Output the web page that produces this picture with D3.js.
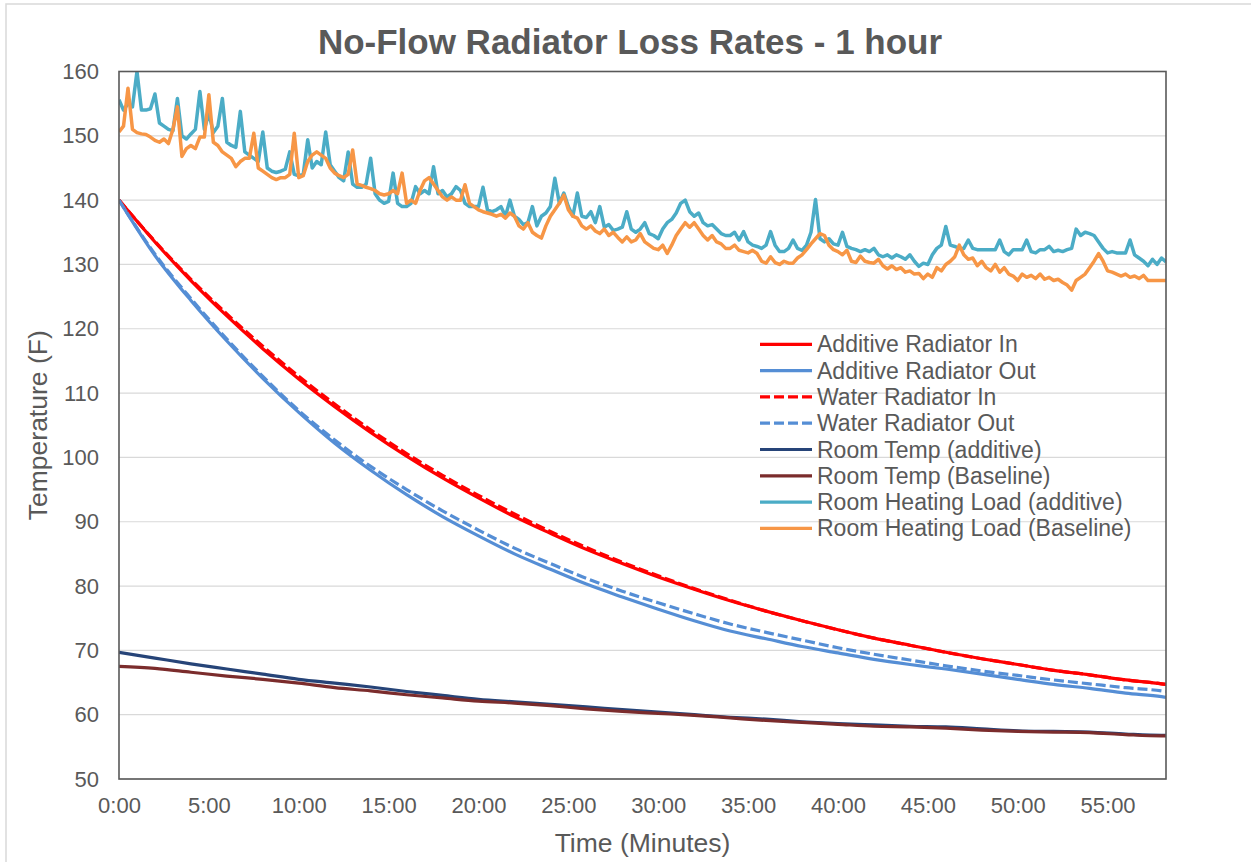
<!DOCTYPE html>
<html><head><meta charset="utf-8">
<script src="https://cdn.jsdelivr.net/npm/d3@7"></script>
<style>
body{margin:0;background:#fff}
svg{display:block}
text{font-family:"Liberation Sans",Arial,sans-serif;fill:#595959}
</style>
</head><body>
<svg id="chart" width="1251" height="862"></svg>
<script>
// ---------- DATA ----------
const chartTitle = "No-Flow Radiator Loss Rates - 1 hour";
const xTitle = "Time (Minutes)";
const yTitle = "Temperature (F)";
const yTicks = [50,60,70,80,90,100,110,120,130,140,150,160];
const xTickMinutes = [0,5,10,15,20,25,30,35,40,45,50,55];
const xTickLabels = ["0:00","5:00","10:00","15:00","20:00","25:00","30:00","35:00","40:00","45:00","50:00","55:00"];

// smooth series sampled every 2 minutes (minutes)
const smoothTimes = [0,2,4,6,8,10,12,14,16,18,20,22,24,26,28,30,32,34,36,38,40,42,44,46,48,50,52,54,56,58,58.25];
const additiveRadIn  = [140,133.5,127.5,122.0,116.9,112.2,107.9,103.9,100.2,96.8,93.7,90.8,88.2,85.7,83.5,81.4,79.5,77.7,76.1,74.6,73.2,71.9,70.8,69.7,68.7,67.8,66.9,66.2,65.4,64.8,64.7];
const additiveRadOut = [140,131.4,124.4,118.1,112.3,107.0,102.2,98.0,94.2,90.8,87.8,85.0,82.6,80.3,78.3,76.4,74.6,73.0,71.8,70.6,69.6,68.6,67.8,67.1,66.3,65.5,64.7,64.1,63.35,62.8,62.7];
const waterRadIn     = [140,133.6,127.7,122.3,117.3,112.6,108.3,104.3,100.6,97.2,94.1,91.2,88.5,86.0,83.7,81.6,79.6,77.8,76.1,74.6,73.2,71.9,70.8,69.7,68.7,67.8,66.9,66.2,65.4,64.8,64.7];
const waterRadOut    = [140,131.6,124.7,118.4,112.6,107.3,102.7,98.6,95.0,91.7,88.7,85.9,83.5,81.2,79.2,77.4,75.7,74.1,72.8,71.6,70.4,69.4,68.5,67.6,66.8,66.1,65.4,64.8,64.2,63.7,63.6];
const roomTempAdditive = [69.7,68.8,67.9,67.1,66.3,65.5,64.9,64.3,63.6,63.0,62.4,62.0,61.6,61.2,60.8,60.4,60.0,59.6,59.3,58.9,58.6,58.4,58.2,58.1,57.8,57.5,57.4,57.3,57.0,56.8,56.8];
const roomTempBaseline = [67.5,67.2,66.6,66.0,65.5,64.9,64.2,63.7,63.1,62.6,62.1,61.8,61.4,60.9,60.5,60.2,59.9,59.5,59.1,58.8,58.5,58.2,58.1,57.9,57.6,57.4,57.3,57.2,56.9,56.7,56.7];

// noisy series sampled every 15 seconds (0 .. 58.25 min)
const loadTimes = d3.range(234).map(i => i * 0.25);
const heatLoadAdditive = [
155.6,154,155,154.5, 160,154,154,154.2, 156.5,152,151.5,151, 150.8,155.8,150,149.5,
150.3,151,156.9,151, 153.5,150.5,151.5,155.8, 149,148.5,148.2,153.8, 147.5,147,146.5,146,
150.6,145,144.5,144.3, 144.5,144.8,147.5,144, 143.8,144,149.4,145, 146,145.5,150.6,145.5,
144.5,143.5,143,147.5, 142.5,142,142,142.5, 146.5,141,140,139.5, 139.8,144.2,139.5,139,
139,139.5,142.1,141, 141.5,141,145.2,141, 141.5,140.5,141,142.1, 141.5,139.5,139,139,
139,142,138.5,138.2, 138.5,139,137.5,140, 137.5,137,136.2,136.5, 139,136,137.5,138,
139,143.4,139.5,141.1, 139,137.5,141.1,137.5, 137.3,138.2,136.5,139, 135.8,136.2,135.3,135.5,
135.8,138.2,135.5,135, 135.5,136.5,134.8,134.5, 134,135.5,136.5,137, 138,139.5,140,138.2,
137.5,138,136.5,136, 136.2,135.5,134.8,134.5, 134.5,135,133.8,135.1, 133.5,133,132.8,132.5,
133,135.1,133,132, 132,132.5,133.8,132.5, 132.2,133,135,140.1, 134,133.5,134,133.2,
133,135,132.8,132.5, 132.3,132,132.3,132, 132.5,131.5,131.2,131.5, 131,131.5,131.2,130.8,
131.5,130.5,129.7,130.2, 130,131.5,132.5,133, 135.9,133,132.8,132.5, 132.5,133.8,132.5,132.3,
132.3,132.3,132.3,132.3, 133.8,132,131.5,132.3, 132.3,132.3,133.8,132, 131.8,132.3,132.3,132.8,
132,132.2,132,132.3, 132.5,135.5,134.5,135, 134.8,134.5,133.5,132.5, 131.8,132,131.8,131.8,
131.8,133.8,131.5,131, 130.5,129.8,130.8,130, 131,130.4];
const heatLoadBaseline = [
150.6,151.5,157.4,151, 150.5,150.3,150.2,149.8, 149.3,149,149.5,148.8, 151,154.5,146.8,148,
148.5,148,149.8,149.8, 156.4,149,148.5,147.5, 147,146.5,145.2,146, 146.5,146.5,150.4,145,
144.5,144,143.5,143.2, 143.5,143.5,144,150.4, 143.5,143.8,146,147, 147.5,147,146.5,145,
144.2,143.8,143.5,144, 147.8,142.5,142.3,142, 141.8,141.5,141,140.8, 141,141.5,141,144.2,
139.5,140,139.5,141.5, 143,143.5,142.5,141.5, 140.5,140,140.5,140, 140,142.4,139.5,139,
138.5,138.2,138,137.8, 137.5,137.8,137.2,138, 137.5,136,135.5,136.5, 135,134.5,134.1,136,
137.5,138.5,139.5,140.8, 138.5,137.5,137.2,136, 135.5,136,135.2,134.8, 135.5,134.5,135,134.2,
133.5,134.3,133.5,133.8, 134.8,133.5,133,132.5, 132.3,133,131.7,133, 134.5,135.5,136.5,135.8,
136.5,135.5,134.5,133.8, 134.5,133.5,133.2,132.5, 132.5,133,132.2,132, 131.8,132.2,131.7,130.5,
130.2,131.2,130.3,130, 130.5,130.2,130.2,131, 131.5,132.3,133.2,134, 134.8,134.5,133,132.3,
132,131.5,132.2,130.5, 130.3,131.3,130.5,130.3, 130.2,130.8,129.8,129.3, 129.8,129.2,129.5,128.8,
129,128.5,128.6,127.8, 128.5,128,129.5,129, 130,130.5,131.2,133, 131.5,130.8,131,129.8,
130.5,129.5,129,130, 128.8,129.5,128.5,128.2, 127.5,128.5,128,128.3, 127.8,128.5,127.7,128,
127.5,127.7,127.2,126.8, 126,127.5,128,128.5, 129.5,130.5,131.7,130.5, 129,128.8,128.5,128.2,
128.5,128,128.2,127.8, 128.3,127.5,127.5,127.5, 127.5,127.5];

const seriesNames = ["Additive Radiator In","Additive Radiator Out","Water Radiator In","Water Radiator Out",
  "Room Temp (additive)","Room Temp (Baseline)","Room Heating Load (additive)","Room Heating Load (Baseline)"];
const seriesColors = ["#FF0000","#558ED5","#FF0000","#558ED5","#264478","#7B2C2C","#4BACC6","#F79646"];
const seriesDashed = [false,false,true,true,false,false,false,false];

// ---------- CHART ----------
const svg = d3.select("#chart");
const W = 1251, H = 862;
const plot = {left:119, right:1166, top:71.5, bottom:779};

// outer frame
svg.append("rect").attr("x",6).attr("y",4).attr("width",W+10).attr("height",H+10)
  .attr("fill","#fff").attr("stroke","#D9D9D9").attr("stroke-width",1.5);

const x = d3.scaleLinear().domain([0,58.25]).range([plot.left, plot.right]);
const y = d3.scaleLinear().domain([50,160]).range([plot.bottom, plot.top]);

// gridlines
svg.append("g").selectAll("line").data(yTicks).join("line")
  .attr("x1",plot.left).attr("x2",plot.right)
  .attr("y1",d=>y(d)).attr("y2",d=>y(d))
  .attr("stroke","#D9D9D9").attr("stroke-width",1.2);

// axes (labels only)
const yAxis = d3.axisLeft(y).tickValues(yTicks).tickSize(0).tickPadding(20);
const gy = svg.append("g").attr("transform",`translate(${plot.left},0)`).call(yAxis);
gy.select(".domain").remove();
gy.selectAll("text").attr("font-size",22).style("font-family",'"Liberation Sans",Arial,sans-serif').attr("fill","#595959");

const xAxis = d3.axisBottom(x).tickValues(xTickMinutes).tickFormat((d,i)=>xTickLabels[i]).tickSize(0).tickPadding(18);
const gx = svg.append("g").attr("transform",`translate(0,${plot.bottom})`).call(xAxis);
gx.select(".domain").remove();
gx.selectAll("text").attr("font-size",22).style("font-family",'"Liberation Sans",Arial,sans-serif').attr("fill","#595959");

// clip
svg.append("clipPath").attr("id","clip").append("rect")
  .attr("x",plot.left).attr("y",plot.top).attr("width",plot.right-plot.left).attr("height",plot.bottom-plot.top);

const seriesData = [
  {t:smoothTimes, v:additiveRadIn},
  {t:smoothTimes, v:additiveRadOut},
  {t:smoothTimes, v:waterRadIn},
  {t:smoothTimes, v:waterRadOut},
  {t:smoothTimes, v:roomTempAdditive},
  {t:smoothTimes, v:roomTempBaseline},
  {t:loadTimes, v:heatLoadAdditive},
  {t:loadTimes, v:heatLoadBaseline}
];
const gLines = svg.append("g").attr("clip-path","url(#clip)");
seriesData.forEach((s,i)=>{
  const pts = s.t.map((t,j)=>[t,s.v[j]]);
  const line = d3.line().x(d=>x(d[0])).y(d=>y(d[1]))
    .curve(i<6 ? d3.curveMonotoneX : d3.curveLinear);
  gLines.append("path").datum(pts)
    .attr("d",line).attr("fill","none")
    .attr("stroke",seriesColors[i]).attr("stroke-width",i<6 ? 3.2 : 3.5)
    .attr("stroke-linejoin","round")
    .attr("stroke-dasharray",seriesDashed[i] ? "10,4" : null);
});

// plot border
svg.append("rect").attr("x",plot.left).attr("y",plot.top)
  .attr("width",plot.right-plot.left).attr("height",plot.bottom-plot.top)
  .attr("fill","none").attr("stroke","#595959").attr("stroke-width",1.6);

// title
svg.append("text").attr("x",630).attr("y",54).attr("text-anchor","middle")
  .attr("font-size",35).attr("font-weight","bold").text(chartTitle);
svg.append("text").attr("x",(plot.left+plot.right)/2).attr("y",852).attr("text-anchor","middle")
  .attr("font-size",26.5).text(xTitle);
svg.append("text").attr("transform",`translate(47,${(plot.top+plot.bottom)/2}) rotate(-90)`)
  .attr("text-anchor","middle").attr("font-size",26.5).text(yTitle);

// legend
const lg = svg.append("g");
seriesNames.forEach((name,i)=>{
  const yy = 344.3 + i*26.3;
  lg.append("line").attr("x1",760).attr("x2",812).attr("y1",yy).attr("y2",yy)
    .attr("stroke",seriesColors[i]).attr("stroke-width",3.2)
    .attr("stroke-dasharray",seriesDashed[i] ? "10,4" : null);
  lg.append("text").attr("x",817).attr("y",yy).attr("dy","0.35em")
    .attr("font-size",23).text(name);
});
</script>
</body></html>
